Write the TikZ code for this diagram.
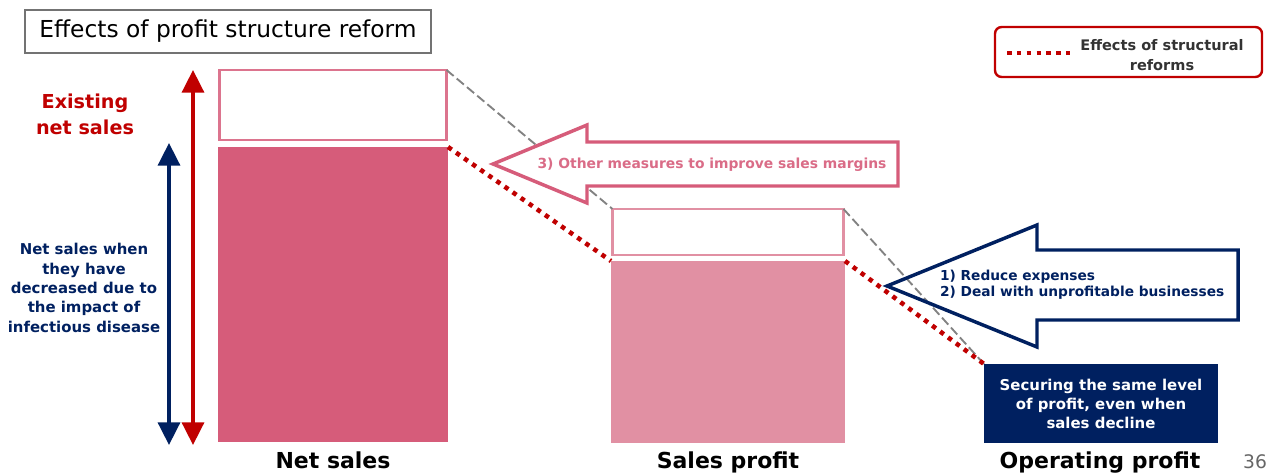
\documentclass[tikz,border=0pt]{standalone}
\usepackage{fontspec}
\setmainfont{DejaVu Sans}
\usetikzlibrary{arrows.meta, positioning}
\definecolor{Cred}{RGB}{192,0,0}
\definecolor{Cnavy}{RGB}{0,32,96}
\definecolor{Cpink}{RGB}{214,92,122}
\definecolor{Clight}{RGB}{225,144,163}
\definecolor{Cdash}{RGB}{130,130,130}
\tikzset{
  every node/.style={inner sep=0pt, outer sep=0pt},
  box/.style 2 args={minimum width=#1*0.75pt, minimum height=#2*0.75pt},
  titlebox/.style={draw=black!55, line width=0.8pt, font=\fontsize{17.5}{21}\selectfont},
  legendbox/.style={draw=Cred, line width=1.8pt, rounded corners=5pt},
  legtext/.style={align=center, text=black!80, font=\bfseries\fontsize{10.9}{15}\selectfont},
  hollow/.style={draw=#1, line width=2.2pt, fill=white},
  solid/.style={fill=#1},
  opbox/.style={fill=Cnavy, text=white, align=center,
    font=\bfseries\fontsize{11.2}{14.3}\selectfont},
  axislbl/.style={anchor=base, font=\bfseries\fontsize{16.5}{20}\selectfont},
  sidetext/.style={align=center, font=\bfseries},
  dblarr/.style={{Triangle[width=16.5pt, length=17pt]}-{Triangle[width=16.5pt, length=17pt]},
    line width=2.6pt},
  effect/.style={draw=Cred, line width=3.4pt, dash pattern=on 3.4pt off 4pt},
  guide/.style={draw=Cdash, line width=1.4pt, dash pattern=on 7pt off 3pt},
  blockarr/.style={draw=#1, line width=2.6pt, line join=miter},
}

\begin{document}
\begin{tikzpicture}[x=0.75pt, y=-0.75pt]
\useasboundingbox (0,0) rectangle (1277,474);

%% Heading and legend
\node[titlebox, box={406}{43}] (title) at (228,31.5) {Effects of profit structure reform};
\node[legendbox, box={267}{50}] (legend) at (1128.5,52) {};
\coordinate (lgA) at (1007,53);
\coordinate (lgB) at (1070,53);
\draw[effect] (lgA) -- (lgB);
\node[legtext] (legtxt) at (1162,55) {Effects of structural\\reforms};

%% Bars
\node[hollow=Cpink!85, box={227}{70}] (nsTop) at (333,105) {};
\node[solid=Cpink, box={230}{295}] (nsBar) at (333,294.5) {};
\node[hollow=Clight, box={231}{46}] (spTop) at (728,232) {};
\node[solid=Clight, box={234}{182}] (spBar) at (728,352) {};
\node[opbox, box={234}{79}] (opBox) at (1101,403.5)
  {Securing the same level\\of profit, even when\\sales decline};

\node[axislbl] (nsName) at (333,468) {Net sales};
\node[axislbl] (spName) at (728,468) {Sales profit};
\node[axislbl] (opName) at (1100,468) {Operating profit};
\node[anchor=base, text=black!60, font=\fontsize{14}{16}\selectfont] (pgno) at (1255,468) {36};

%% Net sales ranges
\coordinate (exTop) at (193,70);
\coordinate (exBot) at (193,445);
\coordinate (dcTop) at (169,143);
\coordinate (dcBot) at (169,445);
\draw[dblarr, Cred] (exTop) -- (exBot);
\draw[dblarr, Cnavy] (dcTop) -- (dcBot);
\node[sidetext, text=Cred, font=\bfseries\fontsize{14.4}{19.5}\selectfont] (exLabel) at (85,114)
  {Existing\\net sales};
\node[sidetext, text=Cnavy, font=\bfseries\fontsize{11.2}{14.5}\selectfont] (dcLabel) at (84,288)
  {Net sales when\\they have\\decreased due to\\the impact of\\infectious disease};

%% Guide lines between the bars
\draw[guide] (nsTop.north east) -- (spTop.north west);
\draw[guide] (spTop.north east) -- (opBox.north west);
\draw[effect] (nsBar.north east) -- (spBar.north west);
\draw[effect] (spBar.north east) -- (opBox.north west);

%% Block arrows for the measures
\draw[blockarr=Cpink, fill=white] (493,164) -- (587,125) -- (587,142) -- (898,142)
  -- (898,186) -- (587,186) -- (587,203) -- cycle;
\node[text=Cpink!90, font=\bfseries\fontsize{10.4}{12}\selectfont] (marginTxt) at (712,165)
  {3) Other measures to improve sales margins};

\draw[blockarr=Cnavy] (887,286) -- (1037,225) -- (1037,250) -- (1238,250)
  -- (1238,320) -- (1037,320) -- (1037,347) -- cycle;
\node[anchor=west, align=left, text=Cnavy, font=\bfseries\fontsize{10.3}{12}\selectfont] (costTxt) at (940,285)
  {1) Reduce expenses\\2) Deal with unprofitable businesses};

\end{tikzpicture}
\end{document}
